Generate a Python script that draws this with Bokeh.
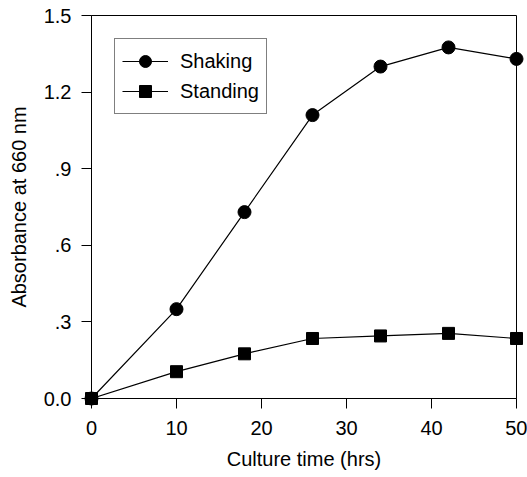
from bokeh.plotting import figure
from bokeh.models import FixedTicker, Range1d, Legend, LegendItem
from bokeh.embed import file_html
from bokeh.resources import INLINE

# Data
time_hrs = [0, 10, 18, 26, 34, 42, 50]
shaking = [0.0, 0.35, 0.73, 1.11, 1.30, 1.375, 1.33]
standing = [0.0, 0.105, 0.175, 0.235, 0.245, 0.255, 0.235]

x_ticks = [0, 10, 20, 30, 40, 50]
y_ticks = [0.0, 0.3, 0.6, 0.9, 1.2, 1.5]
y_tick_labels = ["0.0", ".3", ".6", ".9", "1.2", "1.5"]

FONT = "Liberation Sans"

p = figure(width=527, height=477, output_backend="svg", toolbar_location=None,
           x_range=Range1d(0, 50), y_range=Range1d(0, 1.5),
           min_border_left=91, min_border_right=11, min_border_top=15, min_border_bottom=79)
p.background_fill_color = "white"
p.border_fill_color = "white"
p.outline_line_color = "black"
p.outline_line_width = 1
p.xgrid.visible = False
p.ygrid.visible = False

for ax in (p.xaxis[0], p.yaxis[0]):
    ax.axis_line_color = "black"
    ax.axis_line_width = 1
    ax.major_tick_line_color = "black"
    ax.major_tick_out = 10
    ax.major_tick_in = 0
    ax.minor_tick_line_color = None
    ax.major_label_text_font = FONT
    ax.major_label_text_font_size = "20px"
    ax.major_label_text_color = "black"
    ax.axis_label_text_font = FONT
    ax.axis_label_text_font_size = "20px"
    ax.axis_label_text_font_style = "normal"
    ax.axis_label_text_color = "black"

p.xaxis.ticker = FixedTicker(ticks=x_ticks)
p.yaxis.ticker = FixedTicker(ticks=y_ticks)
p.yaxis.major_label_overrides = {t: l for t, l in zip(y_ticks, y_tick_labels)}
p.xaxis.axis_label = "Culture time (hrs)"
p.yaxis.axis_label = "Absorbance at 660 nm"
p.xaxis.major_label_standoff = 12
p.xaxis.axis_label_standoff = 10
p.yaxis.major_label_standoff = 10
p.yaxis.axis_label_standoff = 11

l1 = p.line(time_hrs, shaking, line_color="black", line_width=1.2)
m1 = p.scatter(time_hrs, shaking, marker="circle", size=13, fill_color="black", line_color="black", level="overlay")
l2 = p.line(time_hrs, standing, line_color="black", line_width=1.2)
m2 = p.scatter(time_hrs, standing, marker="square", size=12, fill_color="black", line_color="black", level="overlay")

legend = Legend(items=[LegendItem(label="Shaking", renderers=[l1, m1]),
                       LegendItem(label="Standing", renderers=[l2, m2])],
                location="top_left")
legend.margin = 23
legend.padding = 7
legend.spacing = -5
legend.glyph_width = 46
legend.glyph_height = 30
legend.label_standoff = 12
legend.border_line_color = "black"
legend.border_line_width = 1
legend.background_fill_color = "white"
legend.background_fill_alpha = 1
legend.label_text_font = FONT
legend.label_text_font_size = "20px"
legend.label_text_color = "black"
p.add_layout(legend, "center")

open("out.html", "w").write(file_html(p, INLINE))
